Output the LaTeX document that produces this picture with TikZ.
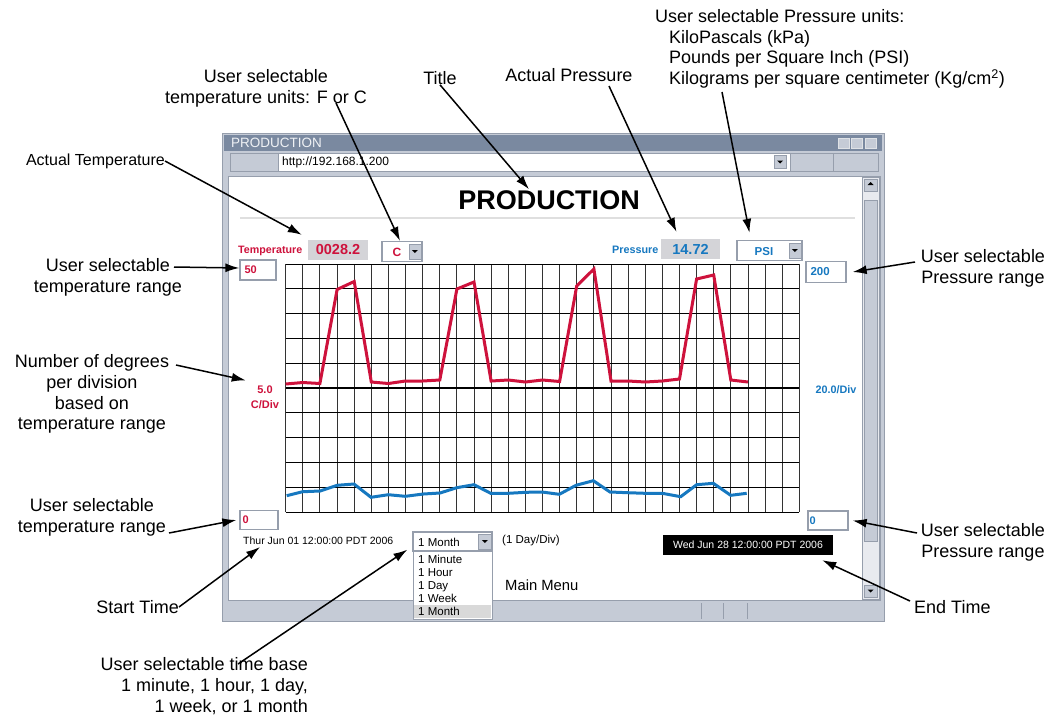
\documentclass[tikz,border=0pt]{standalone}
\usepackage{fontspec}
\setmainfont{Liberation Sans}
\usetikzlibrary{arrows.meta}
\usetikzlibrary{positioning}

\definecolor{winbar}{RGB}{122,137,160}
\definecolor{chrome}{RGB}{197,203,214}
\definecolor{chromeedge}{RGB}{150,158,172}
\definecolor{readout}{RGB}{212,212,216}
\definecolor{tempred}{RGB}{206,18,60}
\definecolor{presblue}{RGB}{22,120,192}

\begin{document}
\begin{tikzpicture}
	[x=1pt, y=-1pt,
	every node/.style={inner sep=0pt}]

\tikzstyle{note}=[font=\fontsize{18}{20.8}\selectfont, align=center]
\tikzstyle{pointer}=[-{Latex[length=14pt,width=9pt]}, line width=1.5pt]
\tikzstyle{inputbox}=[draw=chromeedge, line width=1.3pt, fill=white]
\tikzstyle{dropbtn}=[draw=chromeedge, fill=chrome, minimum width=12pt, minimum height=15pt]
\tikzstyle{readoutbox}=[fill=readout, minimum height=20pt]
\tikzstyle{redtext}=[text=tempred, font=\fontsize{11}{13}\selectfont\bfseries]
\tikzstyle{bluetext}=[text=presblue, font=\fontsize{11}{13}\selectfont\bfseries]
\tikzstyle{screentext}=[font=\fontsize{10.5}{12.5}\selectfont]
\tikzstyle{listtext}=[font=\fontsize{11.5}{13}\selectfont, anchor=base west]
\tikzstyle{gridline}=[line width=0.9pt, black!80]
\tikzstyle{trace}=[line width=3pt]

\def\GridLeft{285.7}
\def\GridRight{799.3}
\def\GridTop{264}
\def\GridBottom{512}
\def\CellW{17.12}
\def\CellH{24.8}
\pgfmathsetmacro{\GridMid}{0.5*(\GridTop+\GridBottom)}
\def\DownTri#1{\fill (#1) ++(-3,-1.5) -- ++(6,0) -- ++(-3,3) -- cycle;}

\useasboundingbox (0,0) rectangle (1059,718);

% Browser window
\draw[fill=chrome, draw=chromeedge] (222,133) rectangle (884,621);
\fill[winbar] (224,135) rectangle (882,151);
\node[anchor=west, text=white!88!winbar, font=\fontsize{13.5}{15}\selectfont]
	(wintitle) at (231,143) {PRODUCTION};
\foreach \x in {838,851,865}
	\draw[fill=chrome, draw=white!70!chromeedge] (\x,138) rectangle +(11,10);

% Address bar
\draw[fill=chrome, draw=chromeedge] (230,153) rectangle (278,171);
\draw[fill=white, draw=chromeedge] (278,153) rectangle (790,171);
\node[anchor=west, font=\fontsize{12}{14}\selectfont]
	(url) at (282,162) {http://192.168.1.200};
\node[dropbtn, minimum height=13pt] (urlbtn) at (780,162) {};
\DownTri{urlbtn.center}
\draw[chromeedge] (790,153) rectangle (878,171);
\draw[chromeedge] (833,153) -- (833,171);

% Page area and scroll bar
\draw[fill=white, draw=chromeedge] (228,176) rectangle (880,600);
\draw[fill=white!60!chrome, draw=chromeedge] (862,177) rectangle (879,599);
\node[dropbtn, minimum width=13pt, minimum height=12pt] (scrollup) at (870.5,185) {};
\fill ([yshift=1.5pt]scrollup.center) ++(-3,1.5) -- ++(6,0) -- ++(-3,-3) -- cycle;
\draw[fill=chrome, draw=chromeedge, line width=1pt] (864,200) rectangle (877,541);
\node[dropbtn, minimum width=13pt, minimum height=12pt] (scrolldown) at (870.5,591) {};
\DownTri{scrolldown.center}

% Status bar
\fill[chrome] (224,601) rectangle (882,620);
\foreach \x in {701,723,747}
	\draw[chromeedge] (\x,603) -- (\x,619);

% Page heading
\node[font=\fontsize{27}{30}\selectfont\bfseries] (pagetitle) at (549,200) {PRODUCTION};
\draw[gray!25, line width=1.5pt] (240,218) -- (855,218);

% Readouts
\node[redtext, font=\fontsize{10.7}{12}\selectfont\bfseries, anchor=west]
	(templabel) at (238,251) {Temperature};
\node[readoutbox, minimum width=60pt, redtext, font=\fontsize{14.5}{16}\selectfont\bfseries]
	(tempval) at (338,250) {0028.2};
\node[inputbox, minimum width=40pt, minimum height=20pt] (tempunit) at (402,251.5) {};
\node[redtext, font=\fontsize{12}{14}\selectfont\bfseries] (tempunittext) at (397,252) {C};
\node[dropbtn, anchor=east] (tempunitbtn) at ([xshift=-1.5pt]tempunit.east) {};
\DownTri{tempunitbtn.center}

\node[bluetext, font=\fontsize{10.8}{12}\selectfont\bfseries, anchor=west]
	(preslabel) at (612,250) {Pressure};
\node[readoutbox, minimum width=59pt, bluetext, font=\fontsize{14.5}{16}\selectfont\bfseries]
	(presval) at (690.5,249) {14.72};
\node[inputbox, minimum width=65pt, minimum height=20pt] (presunit) at (769.5,250.5) {};
\node[bluetext, font=\fontsize{11.5}{14}\selectfont\bfseries] (presunittext) at (764,252) {PSI};
\node[dropbtn, anchor=east] (presunitbtn) at ([xshift=-1.5pt]presunit.east) {};
\DownTri{presunitbtn.center}

% Range boxes
\node[inputbox, minimum width=36pt, minimum height=20pt] (tempmax) at (258,270) {};
\node[redtext, anchor=west] (tempmaxtext) at ([xshift=5pt]tempmax.west) {50};
\node[inputbox, minimum width=38pt, minimum height=19pt] (tempmin) at (259,520) {};
\node[redtext, anchor=west] (tempmintext) at ([xshift=3pt]tempmin.west) {0};
\node[inputbox, minimum width=40pt, minimum height=21pt] (presmax) at (826,272) {};
\node[bluetext, font=\fontsize{11.5}{14}\selectfont\bfseries, anchor=west]
	(presmaxtext) at ([xshift=5pt]presmax.west) {200};
\node[inputbox, minimum width=40pt, minimum height=19pt] (presmin) at (828,520.5) {};
\node[bluetext, anchor=west] (presmintext) at ([xshift=2pt]presmin.west) {0};

\node[redtext, align=center, font=\fontsize{11}{15}\selectfont\bfseries]
	(tempdiv) at (265,397) {5.0\\C/Div};
\node[bluetext, font=\fontsize{10.8}{12}\selectfont\bfseries] (presdiv) at (836,390) {20.0/Div};

% Chart grid
\foreach \i in {0,...,30}
	\draw[gridline] (\GridLeft+\i*\CellW, \GridTop) -- (\GridLeft+\i*\CellW, \GridBottom);
\foreach \j in {0,...,10}
	\draw[gridline, black] (\GridLeft, \GridTop+\j*\CellH) -- (\GridRight, \GridTop+\j*\CellH);
\draw[line width=2pt] (\GridLeft, \GridMid) -- (\GridRight, \GridMid);

% Temperature trace
\draw[trace, tempred] plot coordinates {
	(285.7,384) (302.8,382.5) (319.9,383.5) (337.1,289.5) (354.2,281.5)
	(371.3,382) (388.4,383.5) (405.5,381) (422.7,381) (439.8,380)
	(456.9,289) (474.0,282) (491.1,381) (508.3,380) (525.4,382)
	(542.5,380) (559.6,381.5) (576.7,286) (593.9,269) (611.0,381)
	(628.1,381) (645.2,382) (662.3,381) (679.5,379) (696.6,279)
	(713.7,275) (730.8,380) (747.9,382)};

% Pressure trace
\draw[trace, presblue] plot coordinates {
	(286.7,495.7) (302.7,491.7) (320.0,491) (337.3,485.3) (354.0,484)
	(371.0,497.3) (388.3,494.7) (405.3,496.3) (423.3,494) (440.0,493)
	(456.7,487.7) (474.0,484.7) (490.7,493.3) (508.3,493.3) (525.7,492.3)
	(542.0,492) (559.3,494.3) (576.0,485.3) (593.3,480.7) (610.0,492)
	(627.7,492.7) (645.0,493.3) (662.3,493.3) (680.7,496.7) (696.7,484.7)
	(713.3,483.3) (730.7,495.3) (746.7,493.3)};

% Time controls
\node[screentext, anchor=west] (starttime) at (243,541) {Thur Jun 01 12:00:00 PDT 2006};
\node[inputbox, minimum width=79pt, minimum height=19pt] (timebase) at (452.5,541.5) {};
\node[listtext] (timebasetext) at (418,546) {1 Month};
\node[dropbtn, minimum width=13pt, anchor=east] (timebasebtn) at ([xshift=-1pt]timebase.east) {};
\DownTri{timebasebtn.center}
\node[font=\fontsize{11.5}{13}\selectfont, anchor=west] (perdiv) at (502,541) {(1 Day/Div)};
\node[font=\fontsize{14.8}{17}\selectfont, anchor=west] (mainmenu) at (505,585) {Main Menu};
\node[fill=black, text=white, screentext, minimum width=170pt, minimum height=20pt]
	(endtime) at (748,545) {Wed Jun 28 12:00:00 PDT 2006};

% Time base list
\draw[fill=white, draw=chromeedge] (413,551) rectangle (492,619);
\fill[gray!30] (414,605) rectangle (491,618);
\foreach \t [count=\k from 0] in {1 Minute,1 Hour,1 Day,1 Week,1 Month}
	\node[listtext] (item\k) at (418,563+13*\k) {\t};

% Notes
\node[note, align=left, anchor=north west] (presunitsnote) at (655,9)
	{User selectable Pressure units:\\
	\hspace*{14pt}KiloPascals (kPa)\\
	\hspace*{14pt}Pounds per Square Inch (PSI)\\
	\hspace*{14pt}Kilograms per square centimeter (Kg/cm\textsuperscript{2})};
\node[note] (tempunitsnote) at (266,88) {User selectable\\temperature units: F or C};
\node[note] (titlenote) at (440,78) {Title};
\node[note] (presvalnote) at (569,75) {Actual Pressure};
\node[note, font=\fontsize{16}{18}\selectfont, anchor=east] (tempvalnote) at (165,161) {Actual Temperature};
\node[note] (tempmaxnote) at (108,277) {User selectable\\temperature range};
\node[note] (tempdivnote) at (92,394) {Number of degrees\\per division\\based on\\temperature range};
\node[note] (tempminnote) at (92,517) {User selectable\\temperature range};
\node[note, anchor=east] (startnote) at (179,607) {Start Time};
\node[note, align=right, anchor=east] (timebasenote) at (308,686)
	{User selectable time base\\1 minute, 1 hour, 1 day,\\1 week, or 1 month};
\node[note] (presmaxnote) at (983,268) {User selectable\\Pressure range};
\node[note] (presminnote) at (983,542) {User selectable\\Pressure range};
\node[note, anchor=west] (endnote) at (914,607) {End Time};

% Pointers
\draw[pointer] (tempvalnote.east) -- ([shift={(-6,-5)}]tempval.north west);
\draw[pointer] (336,103) -- ([xshift=-2pt]tempunit.north);
\draw[pointer] (titlenote.south) -- ([shift={(-20,-1)}]pagetitle.north);
\draw[pointer] (609,86) -- ([shift={(-14,-7)}]presval.north);
\draw[pointer] (722,92) -- ([shift={(-20,-7)}]presunit.north);
\draw[pointer] (174,267) -- ([yshift=2pt]tempmax.west);
\draw[pointer] (915,262) -- ([xshift=6pt]presmax.east);
\draw[pointer] (176,365) -- ([shift={(-5,-5)}]tempdiv.north west);
\draw[pointer] (169,533) -- ([xshift=-3pt]tempmin.west);
\draw[pointer] (917,533) -- ([xshift=4pt]presmin.east);
\draw[pointer] (startnote.east) -- ([shift={(17,2)}]starttime.south west);
\draw[pointer] (238,664) -- ([shift={(-5,-2)}]timebase.south west);
\draw[pointer] (910,601) -- ([shift={(-11,5)}]endtime.south east);

\end{tikzpicture}
\end{document}
